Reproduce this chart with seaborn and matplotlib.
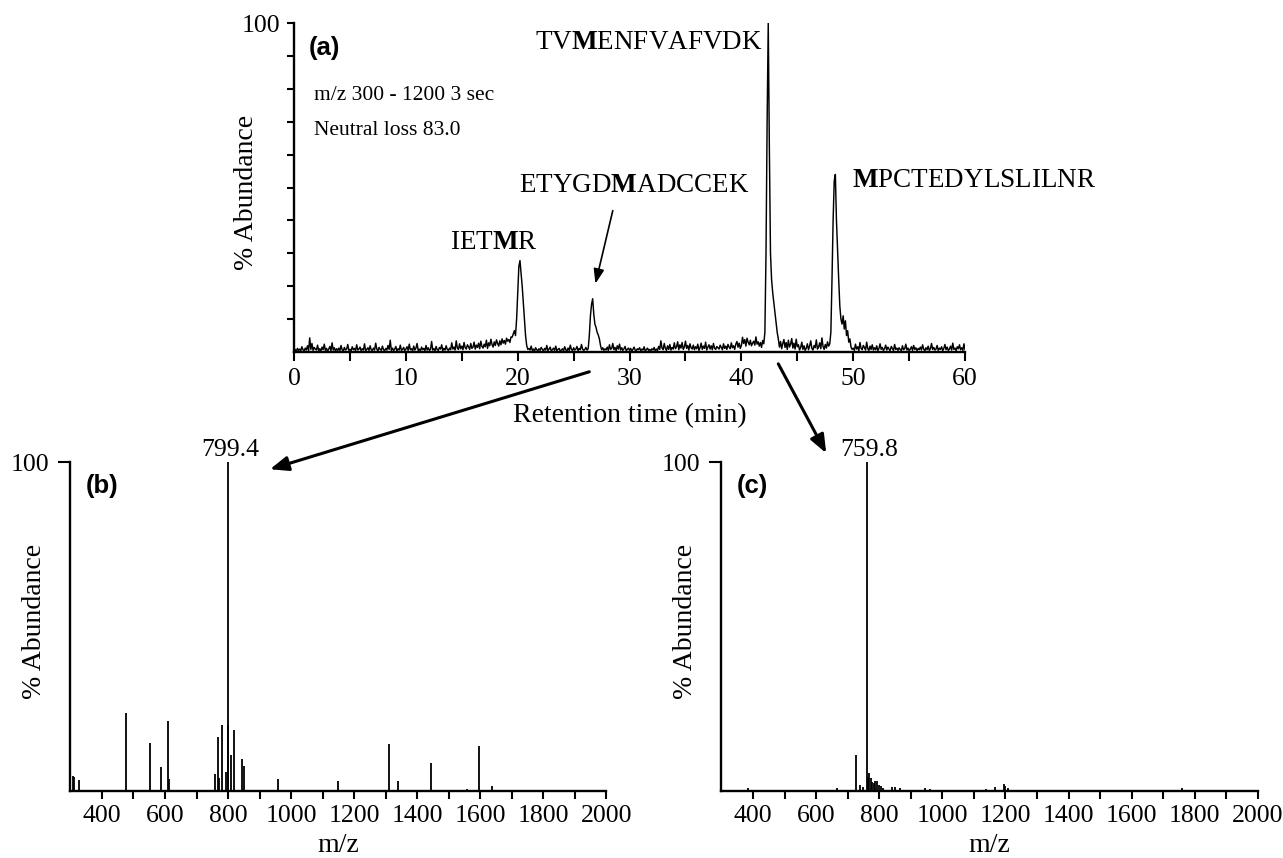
import numpy as np
import pandas as pd
import matplotlib
matplotlib.use("Agg")
import matplotlib.pyplot as plt
import seaborn as sns
from matplotlib.patches import ConnectionPatch
from matplotlib.ticker import FixedLocator

# ---------------- data ----------------
# (a) neutral-loss chromatogram, sampled every 0.1 min from 0 to 60 min
time_min = np.round(np.arange(0, 60.05, 0.1), 1)
abundance = [
    0.3, 0.8, 0.2, 1.1, 0.5, 0.9, 0.4, 1.6, 0.7, 0.3, 1.2, 0.6, 1.9, 0.4, 4.3, 0.8, 2.6, 0.5, 1.4, 0.9,
    0.6, 2.1, 0.4, 1.0, 0.3, 1.5, 0.7, 2.4, 0.5, 1.1, 0.2, 0.9, 1.7, 0.4, 2.8, 0.6, 1.3, 0.3, 1.0, 0.5,
    1.2, 0.4, 2.0, 0.7, 0.3, 1.4, 0.6, 0.9, 2.3, 0.5, 0.8, 0.3, 1.6, 0.7, 1.1, 0.4, 2.2, 0.6, 0.9, 1.5,
    0.4, 1.0, 0.6, 2.5, 0.3, 0.8, 1.3, 0.5, 1.9, 0.7, 0.4, 1.2, 0.6, 2.7, 0.9, 0.3, 1.4, 0.8, 0.5, 1.8,
    0.7, 0.4, 1.1, 0.6, 2.0, 0.8, 3.6, 0.5, 1.2, 0.4, 0.9, 1.7, 0.3, 1.0, 0.6, 2.1, 0.5, 0.8, 1.4, 0.4,
    0.9, 1.6, 0.5, 2.4, 0.7, 1.0, 0.4, 1.8, 0.6, 1.2, 2.6, 0.5, 0.9, 0.3, 1.5, 0.7, 1.1, 0.4, 2.0, 0.6,
    1.3, 0.5, 0.8, 3.2, 0.6, 1.0, 0.4, 1.7, 0.7, 0.5, 1.4, 0.9, 2.2, 0.4, 1.1, 0.6, 1.9, 0.8, 0.5, 1.2,
    0.7, 2.8, 0.9, 1.5, 0.6, 3.4, 1.2, 0.8, 2.5, 1.0, 1.8, 0.7, 2.9, 1.3, 0.9, 2.2, 1.6, 0.8, 2.6, 1.1,
    1.5, 3.0, 0.9, 2.1, 1.4, 2.7, 1.0, 3.3, 1.7, 1.2, 2.4, 1.6, 3.6, 1.1, 2.8, 1.9, 3.9, 2.3, 1.5, 3.1,
    2.0, 3.7, 2.6, 1.8, 3.4, 2.2, 4.0, 2.7, 3.5, 2.4, 4.2, 3.3, 3.8, 2.9, 4.6, 4.5, 5.5, 6.5, 5.0, 10.0,
    18.0, 26.0, 27.8, 24.0, 20.0, 15.0, 10.0, 5.0, 2.0, 0.8, 1.1, 0.6, 1.8, 0.5, 0.9, 0.3, 1.3, 0.7, 0.4, 1.0,
    0.5, 1.4, 0.8, 0.3, 1.1, 0.6, 2.0, 0.4, 0.9, 1.5, 0.3, 0.7, 1.2, 0.5, 1.8, 0.4, 0.8, 1.1, 0.3, 0.6,
    1.0, 0.4, 1.6, 0.7, 0.3, 1.2, 0.5, 2.1, 0.8, 0.4, 1.3, 0.6, 0.9, 1.7, 0.4, 1.1, 0.7, 2.3, 0.9, 0.5,
    0.8, 1.4, 0.6, 1.0, 5.0, 11.0, 14.5, 16.2, 11.5, 8.5, 7.5, 6.0, 5.2, 4.0, 2.0, 0.7, 1.3, 0.5, 1.0, 0.6,
    1.5, 0.5, 2.2, 0.8, 1.1, 2.6, 0.7, 1.4, 0.4, 1.9, 0.9, 2.4, 0.6, 1.3, 0.5, 1.0, 1.7, 0.4, 0.8, 1.2,
    0.5, 1.1, 0.3, 0.8, 1.5, 0.6, 0.4, 1.0, 0.7, 1.3, 0.4, 0.9, 0.6, 1.6, 0.3, 0.7, 1.2, 0.5, 0.8, 0.4,
    1.0, 0.6, 1.4, 0.3, 0.9, 0.5, 1.7, 0.8, 3.4, 1.2, 0.7, 2.6, 1.1, 0.5, 1.9, 0.8, 2.3, 0.6, 1.4, 0.9,
    2.8, 1.0, 1.6, 3.1, 0.7, 2.2, 1.2, 2.9, 0.8, 1.5, 3.3, 1.1, 2.0, 0.6, 2.5, 1.3, 0.9, 2.1, 0.7, 1.6,
    1.0, 2.4, 0.5, 1.3, 2.7, 0.8, 1.8, 1.1, 3.0, 0.6, 1.5, 2.2, 0.9, 1.9, 0.7, 2.6, 1.2, 0.8, 1.7, 1.3,
    0.9, 2.1, 1.4, 0.7, 2.5, 1.1, 1.8, 0.8, 2.3, 1.5, 1.0, 2.8, 1.3, 1.9, 0.8, 2.4, 3.2, 1.5, 2.7, 1.1,
    2.0, 4.5, 2.6, 3.8, 1.8, 4.2, 3.0, 2.2, 3.6, 1.9, 2.7, 3.3, 2.1, 4.6, 2.4, 3.1, 1.8, 2.9, 1.4, 3.5,
    2.5, 6.0, 30.0, 70.0, 100.0, 62.0, 30.0, 22.0, 18.0, 15.0, 12.0, 9.0, 6.0, 4.0, 1.5, 3.2, 1.0, 2.6, 3.8, 1.4,
    2.9, 0.8, 3.6, 1.5, 2.4, 4.1, 1.2, 2.7, 0.9, 3.9, 1.6, 2.2, 0.6, 1.4, 3.0, 0.8, 1.9, 0.5, 1.2, 2.5,
    0.7, 1.8, 3.4, 1.1, 0.6, 2.0, 1.3, 3.7, 0.9, 1.5, 2.8, 1.0, 4.3, 1.7, 0.8, 2.3, 1.2, 3.1, 1.8, 2.5,
    6.0, 22.0, 40.0, 52.0, 54.0, 40.0, 31.0, 22.0, 14.0, 10.0, 8.5, 11.0, 7.0, 9.5, 5.0, 6.5, 3.0, 4.0, 1.5, 0.8,
    1.2, 0.5, 2.4, 0.9, 1.6, 0.4, 2.9, 1.1, 0.7, 2.0, 1.4, 0.6, 3.0, 1.0, 0.5, 1.8, 0.8, 2.2, 0.6, 1.3,
    0.7, 1.9, 0.4, 1.1, 2.5, 0.8, 1.4, 0.5, 1.0, 2.1, 0.6, 1.5, 0.9, 0.4, 1.7, 1.1, 0.5, 2.3, 0.8, 1.2,
    0.5, 1.3, 0.8, 0.4, 1.9, 0.7, 1.0, 2.4, 0.6, 1.2, 0.4, 0.9, 1.6, 0.5, 2.0, 0.8, 1.3, 0.4, 1.1, 0.7,
    1.5, 0.6, 2.2, 0.9, 0.4, 1.3, 0.7, 1.8, 0.5, 1.0, 2.6, 0.8, 1.4, 0.6, 0.9, 2.0, 0.5, 1.2, 0.8, 1.6,
    0.4, 1.1, 2.3, 0.7, 1.5, 0.5, 0.9, 1.8, 0.6, 2.7, 0.8, 1.2, 0.4, 1.6, 1.0, 2.2, 0.7, 1.3, 0.5, 2.5,
    0.6,
]

# peptide annotations for (a)
peptide_labels = [r"TV$\mathbf{M}$ENFVAFVDK", r"ETYGD$\mathbf{M}$ADCCEK",
                  r"IET$\mathbf{M}$R", r"$\mathbf{M}$PCTEDYLSLILNR"]

# (b) MS spectrum of ETYGDMADCCEK peak
mz_b = [307, 311, 327, 477, 553, 587, 611, 614, 759, 768, 772, 780, 794, 799.4,
        801, 808, 820, 844, 850, 959, 1149, 1309, 1340, 1443, 1557, 1595, 1636]
int_b = [4.6, 4.3, 3.3, 23.8, 14.7, 7.2, 21.2, 3.6, 5.3, 16.3, 4.0, 20.1, 5.7, 100,
         20.0, 10.9, 18.5, 9.8, 7.6, 3.6, 3.0, 14.3, 3.0, 8.4, 0.6, 13.7, 1.4]

# (c) MS spectrum of TVMENFVAFVDK peak
mz_c = [384, 667, 727, 738, 748, 759.8, 763, 769, 773, 778, 782, 787, 792, 798,
        805, 813, 839, 849, 867, 916, 944, 961, 1139, 1167, 1194, 1200, 1208, 1758]
int_c = [0.8, 0.8, 11.0, 1.8, 1.1, 100, 4.4, 5.4, 3.9, 2.8, 2.3, 3.0, 3.0, 1.8,
         1.5, 0.8, 1.1, 1.1, 0.8, 0.3, 0.8, 0.5, 0.5, 1.3, 2.1, 1.6, 0.8, 0.8]

x_ticks_a = [0, 10, 20, 30, 40, 50, 60]
x_ticks_ms = [400, 600, 800, 1000, 1200, 1400, 1600, 1800, 2000]

assert len(abundance) == len(time_min)

# ---------------- style ----------------
sns.set_theme(style="ticks")
plt.rcParams["font.family"] = ["Liberation Serif", "DejaVu Serif"]
plt.rcParams["mathtext.fontset"] = "custom"
plt.rcParams["mathtext.rm"] = "Liberation Serif"
plt.rcParams["mathtext.it"] = "Liberation Serif:italic"
plt.rcParams["mathtext.bf"] = "Liberation Serif:bold"
for k in ["axes.edgecolor", "xtick.color", "ytick.color", "text.color", "axes.labelcolor"]:
    plt.rcParams[k] = "black"

fig = plt.figure(figsize=(12.83, 8.58), dpi=100)
ax_a = fig.add_axes([0.2292, 0.5897, 0.5230, 0.3834])
ax_b = fig.add_axes([0.0549, 0.0781, 0.4177, 0.3834])
ax_c = fig.add_axes([0.5623, 0.0781, 0.4182, 0.3834])

SPINE_W = 1.7

# ---------------- (a) chromatogram ----------------
chrom = pd.DataFrame({"time": time_min, "abundance": abundance})
sns.lineplot(data=chrom, x="time", y="abundance", ax=ax_a, color="black",
             linewidth=1.05, estimator=None)
ax_a.set_xlim(0, 60)
ax_a.set_ylim(0, 100)
ax_a.set_xticks(x_ticks_a)
ax_a.xaxis.set_minor_locator(FixedLocator([5, 15, 25, 35, 45, 55]))
ax_a.set_yticks([100])
ax_a.set_yticklabels(["100"])
ax_a.yaxis.set_minor_locator(FixedLocator(list(range(10, 100, 10))))
ax_a.tick_params(axis="x", which="both", direction="out", length=6.5, width=1.5,
                 pad=5, labelsize=18.5)
ax_a.tick_params(axis="y", which="both", direction="out", length=5, width=1.5,
                 pad=5, labelsize=18.5)
ax_a.set_xlabel("Retention time (min)", fontsize=20)
ax_a.set_ylabel("% Abundance", fontsize=20)
ax_a.xaxis.set_label_coords(0.5, -0.155)
ax_a.yaxis.set_label_coords(-0.052, 0.486)

ax_a.text(1.3, 92.5, "(a)", family="Liberation Sans", weight="bold",
          fontsize=18.5, ha="left", va="center")
ax_a.text(1.76, 77.9, "m/z 300 - 1200 3 sec", fontsize=15.5, ha="left", va="center")
ax_a.text(1.76, 67.3, "Neutral loss 83.0", fontsize=15.5, ha="left", va="center")

ax_a.text(41.86, 94.0, peptide_labels[0], fontsize=19.5, ha="right", va="center")
ax_a.text(30.46, 50.6, peptide_labels[1], fontsize=19.5, ha="center", va="center")
ax_a.text(17.86, 33.4, peptide_labels[2], fontsize=19.5, ha="center", va="center")
ax_a.text(49.9, 52.1, peptide_labels[3], fontsize=19.5, ha="left", va="center")

ax_a.annotate("", xy=(26.95, 20.8), xytext=(28.5, 43.0),
              arrowprops=dict(arrowstyle="-|>,head_length=0.55,head_width=0.2",
                              color="black", lw=1.2, mutation_scale=16,
                              shrinkA=0, shrinkB=0))

# ---------------- (b), (c) spectra ----------------
def spectrum(ax, mz, inten, tag, top_label):
    ax.vlines(mz, 0, inten, color="black", linewidth=1.3)
    ax.set_xlim(300, 2000)
    ax.set_ylim(0, 100)
    ax.set_xticks(x_ticks_ms)
    ax.xaxis.set_minor_locator(FixedLocator(list(range(500, 2000, 200))))
    ax.set_yticks([100])
    ax.set_yticklabels(["100"])
    ax.tick_params(axis="x", which="both", direction="out", length=6, width=1.5,
                   pad=4, labelsize=18.5)
    ax.tick_params(axis="y", which="both", direction="out", length=8.5, width=1.5,
                   pad=7, labelsize=18.5)
    ax.set_xlabel("m/z", fontsize=20)
    ax.set_ylabel("% Abundance", fontsize=20)
    ax.xaxis.set_label_coords(0.5, -0.128)
    ax.yaxis.set_label_coords(-0.044, 0.515)
    ax.text(348, 92.6, tag, family="Liberation Sans", weight="bold",
            fontsize=18.5, ha="left", va="center")
    i = int(np.argmax(inten))
    ax.annotate(top_label, xy=(mz[i], 100), xytext=(2, 0.5), textcoords="offset points",
                ha="center", va="bottom", fontsize=18.5, annotation_clip=False)

spectrum(ax_b, mz_b, int_b, "(b)", "799.4")
spectrum(ax_c, mz_c, int_c, "(c)", "759.8")

for ax in (ax_a, ax_b, ax_c):
    for s in ("top", "right"):
        ax.spines[s].set_visible(False)
    for s in ("left", "bottom"):
        ax.spines[s].set_linewidth(SPINE_W)
        ax.spines[s].set_color("black")

# ---------------- connecting arrows ----------------
arrow_style = "-|>,head_length=0.5,head_width=0.2"
con1 = ConnectionPatch(xyA=(26.4, -6.0), coordsA=ax_a.transData,
                       xyB=(933, 97.8), coordsB=ax_b.transData,
                       arrowstyle=arrow_style, color="black", lw=2.2,
                       mutation_scale=22)
con2 = ConnectionPatch(xyA=(43.3, -3.6), coordsA=ax_a.transData,
                       xyB=(632, 102.7), coordsB=ax_c.transData,
                       arrowstyle=arrow_style, color="black", lw=2.2,
                       mutation_scale=22)
fig.add_artist(con1)
fig.add_artist(con2)

fig.savefig("out.png", dpi=100)
